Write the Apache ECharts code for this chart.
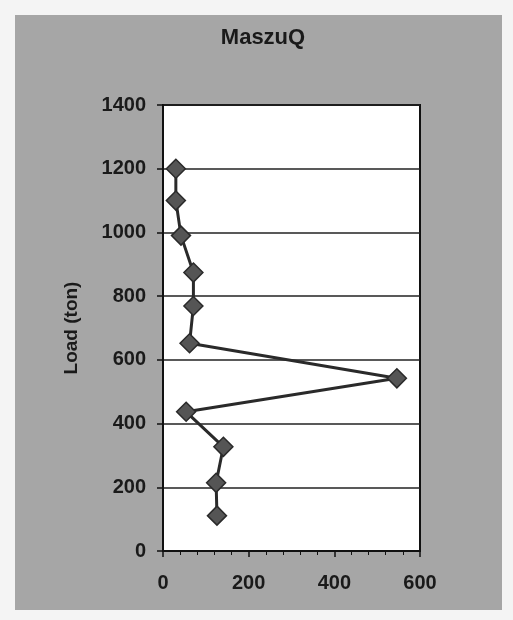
<!DOCTYPE html>
<html>
<head>
<meta charset="utf-8">
<script src="https://cdn.jsdelivr.net/npm/echarts@6/dist/echarts.min.js"></script>
<style>
html,body{margin:0;padding:0;background:#f4f4f4;}
#c{width:513px;height:620px;}
</style>
</head>
<body>
<div id="c"></div>
<script>
var titleText = "MaszuQ";
var yAxisName = "Load (ton)";
var xValues = [30, 30, 42, 71, 71, 62, 546, 54, 141, 124, 126];
var loadValues = [1200, 1100, 990, 874, 769, 652, 542, 437, 327, 214, 111];
var xTicks = [0, 200, 400, 600];
var yTicks = [0, 200, 400, 600, 800, 1000, 1200, 1400];

var chart = echarts.init(document.getElementById('c'), null, {renderer: 'canvas'});
var pts = xValues.map(function (v, i) { return [v, loadValues[i]]; });
var FONT = 'Liberation Sans, Arial';
chart.setOption({
  backgroundColor: '#f4f4f4',
  animation: false,
  graphic: [
    {type: 'rect', z: -10, shape: {x: 15, y: 15, width: 487, height: 595}, style: {fill: '#a6a6a6'}},
    {type: 'rect', z: -9, shape: {x: 163, y: 105, width: 257, height: 446}, style: {fill: '#ffffff', stroke: '#111', lineWidth: 2}}
  ],
  title: {
    text: titleText, left: 258, top: 22, textAlign: 'center',
    textStyle: {fontFamily: FONT, fontWeight: 'bold', fontSize: 22, color: '#1a1a1a'}
  },
  grid: {left: 163, top: 105, right: 93, bottom: 69, containLabel: false},
  xAxis: {
    type: 'value', min: 0, max: 600, interval: 200,
    axisLine: {show: true, lineStyle: {color: '#111', width: 2}},
    axisTick: {show: true, length: 6, lineStyle: {color: '#111', width: 1.5}},
    minorTick: {show: true, splitNumber: 5, length: 4, lineStyle: {color: '#111', width: 1}},
    splitLine: {show: false},
    axisLabel: {margin: 22, fontFamily: FONT, fontWeight: 'bold', fontSize: 20, color: '#1a1a1a',
      formatter: function (v) { return xTicks.indexOf(v) >= 0 ? String(v) : ''; }}
  },
  yAxis: {
    type: 'value', min: 0, max: 1400, interval: 200,
    name: yAxisName, nameLocation: 'middle', nameGap: 82, nameRotate: 90,
    nameTextStyle: {fontFamily: FONT, fontWeight: 'bold', fontSize: 19, color: '#1a1a1a'},
    axisLine: {show: true, lineStyle: {color: '#111', width: 2}},
    axisTick: {show: true, length: 6, lineStyle: {color: '#111', width: 1.5}},
    splitLine: {show: true, lineStyle: {color: '#222', width: 1.5}},
    axisLabel: {margin: 17, fontFamily: FONT, fontWeight: 'bold', fontSize: 20, color: '#1a1a1a',
      formatter: function (v) { return yTicks.indexOf(v) >= 0 ? String(v) : ''; }}
  },
  series: [{
    type: 'line', data: pts,
    symbol: 'diamond', symbolSize: 19,
    lineStyle: {color: '#2a2a2a', width: 3},
    itemStyle: {color: '#555', borderColor: '#2a2a2a', borderWidth: 1.5}
  }]
});
</script>
</body>
</html>
